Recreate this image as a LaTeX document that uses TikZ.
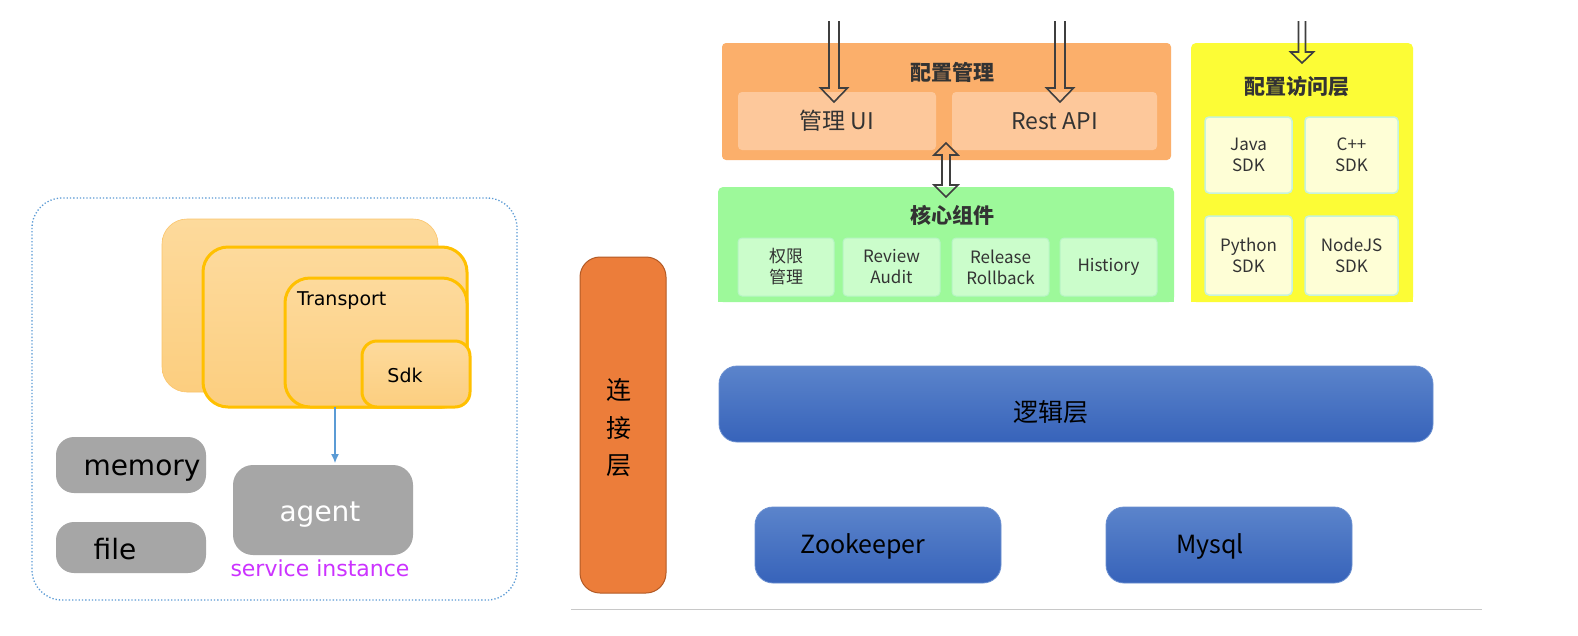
\documentclass[tikz,border=0pt]{standalone}
\usepackage{fontspec}
\setmainfont{DejaVu Sans}
\newfontfamily\cjk{Noto Sans CJK SC}
\usetikzlibrary{calc,arrows.meta}
\definecolor{cfgorange}{HTML}{FBAF6B}
\definecolor{cfgsub}{HTML}{FDC89B}
\definecolor{coregreen}{HTML}{9DF99A}
\definecolor{coresub}{HTML}{CBFDCB}
\definecolor{coresubline}{HTML}{B7F5C4}
\definecolor{accyellow}{HTML}{FCFC36}
\definecolor{accsub}{HTML}{FEFED6}
\definecolor{accsubline}{HTML}{C6F3DC}
\definecolor{barorange}{HTML}{EC7D3A}
\definecolor{barline}{HTML}{B35A25}
\definecolor{bluetop}{HTML}{5B84CB}
\definecolor{bluebot}{HTML}{3763BA}
\definecolor{blueline}{HTML}{6A8FD0}
\definecolor{gold}{HTML}{FFC000}
\definecolor{paletop}{HTML}{FDDA9C}
\definecolor{palebot}{HTML}{FCCE7F}
\definecolor{paleline}{HTML}{FBC46A}
\definecolor{grayb}{HTML}{A6A6A6}
\definecolor{dotblue}{HTML}{5B9BD5}
\definecolor{magentat}{HTML}{CC33FF}
\definecolor{txt}{HTML}{333333}
\definecolor{arrowgray}{HTML}{3F3F3F}
\definecolor{rulegray}{HTML}{C8C8C8}
\tikzset{
  box/.style={anchor=north west, inner sep=0pt, outer sep=0pt},
  ttl/.style={font=\cjk\bfseries\fontsize{21}{25}\selectfont, text=txt, inner sep=0pt},
  bigsub/.style={box, fill=cfgsub, rounded corners=4pt, font=\cjk\fontsize{23}{27}\selectfont, text=txt},
  coresubbox/.style={box, fill=coresub, draw=coresubline, line width=1pt, rounded corners=4pt, font=\cjk\fontsize{17}{21}\selectfont, text=txt, align=center},
  sdkbox/.style={box, fill=accsub, draw=accsubline, line width=1.5pt, rounded corners=4pt, font=\cjk\fontsize{17}{21}\selectfont, text=txt, align=center},
  bluebox/.style={box, top color=bluetop, bottom color=bluebot, draw=blueline, line width=0.8pt, rounded corners=18pt},
  bluetext/.style={font=\cjk\fontsize{25}{29}\selectfont, text=black, inner sep=0pt, anchor=base},
  palebox/.style={box, top color=paletop, bottom color=palebot},
  goldbox/.style={palebox, draw=gold, line width=3pt},
  graybox/.style={box, fill=grayb, rounded corners=18pt},
  lefttext/.style={inner sep=0pt, text=black, anchor=base},
  harrow/.style={draw=arrowgray, line width=1.6pt, line join=miter},
}
\newcommand\hdown[5]{\draw[harrow] let \p1=(#1), \p2=(#2) in
  (\x1-#3pt,\y1) -- (\x1-#3pt,\y2+#5pt) -- (\x1-#4pt,\y2+#5pt) -- (\x2,\y2)
  -- (\x1+#4pt,\y2+#5pt) -- (\x1+#3pt,\y2+#5pt) -- (\x1+#3pt,\y1);}
\begin{document}
\begin{tikzpicture}[x=1pt,y=-1pt]
\useasboundingbox[fill=white] (0,0) rectangle (1578,635);

% ---------- left: service instance ----------
\node[box, draw=dotblue, dotted, line width=1.3pt, rounded corners=30pt, minimum width=485, minimum height=402] (frame) at (32,198) {};
\node[palebox, draw=paleline, line width=0.6pt, rounded corners=25pt, minimum width=276, minimum height=173] (back) at (162,219) {};
\node[goldbox, rounded corners=25pt, minimum width=264, minimum height=160] (mid) at (203,247) {};
\node[goldbox, rounded corners=25pt, minimum width=182, minimum height=129] (tr) at (285,278) {};
\node[goldbox, rounded corners=15pt, minimum width=108, minimum height=66] (sdk) at (362,341) {};
\node[lefttext, anchor=base west, font=\fontsize{19}{23}\selectfont] (trt) at (297,305) {Transport};
\node[lefttext, font=\fontsize{19}{23}\selectfont] (sdkt) at (405,382) {Sdk};
\node[graybox, minimum width=150, minimum height=56] (mem) at (56,437) {};
\node[lefttext, font=\fontsize{28}{32}\selectfont] (memt) at (142,475) {memory};
\node[graybox, minimum width=150, minimum height=51] (file) at (56,522) {};
\node[lefttext, font=\fontsize{28}{32}\selectfont] (filet) at (115,559) {file};
\node[graybox, rounded corners=20pt, minimum width=180, minimum height=90] (agent) at (233,465) {};
\node[lefttext, text=white, font=\fontsize{28}{32}\selectfont] (agentt) at (320,521) {agent};
\node[lefttext, text=magentat, font=\fontsize{22}{26}\selectfont] (svc) at (320,576) {service instance};
\coordinate (ab) at (335,407);
\draw[dotblue, line width=1.2pt, -{Latex[length=9pt,width=8pt]}] (ab) -- ([yshift=2pt]ab |- agent.north);

% ---------- right: config management ----------
\node[box, fill=cfgorange, rounded corners=4pt, minimum width=449, minimum height=117] (cfg) at (722,43) {};
\node[ttl] (cfgt) at (952,72) {配置管理};
\node[bigsub, minimum width=198, minimum height=58] (ui) at (738,92) {管理 UI};
\node[bigsub, minimum width=205, minimum height=58] (rest) at (952,92) {Rest API};

\node[box, fill=coregreen, rounded corners=5pt, minimum width=456, minimum height=115] (core) at (718,187) {};
\fill[coregreen] ([yshift=10pt]core.south west) rectangle (core.south east);
\node[ttl] (coret) at (952,215) {核心组件};
\node[coresubbox, minimum width=96, minimum height=58] (perm) at (738,238) {权限\\管理};
\node[coresubbox, minimum width=97, minimum height=58] (rev) at (843,238) {Review\\Audit};
\node[coresubbox, minimum width=97, minimum height=58] (rel) at (952,238) {Release\\Rollback};
\node[coresubbox, minimum width=97, minimum height=58] (his) at (1060,238) {Histiory};

\node[box, fill=accyellow, rounded corners=5pt, minimum width=222, minimum height=259] (acc) at (1191,43) {};
\fill[accyellow] ([yshift=10pt]acc.south west) rectangle (acc.south east);
\node[ttl] (acct) at (1297,87) {配置访问层};
\node[sdkbox, minimum width=87, minimum height=76] (java) at (1205,117) {Java\\SDK};
\node[sdkbox, minimum width=93, minimum height=76] (cpp) at (1305,117) {C++\\SDK};
\node[sdkbox, minimum width=87, minimum height=79] (py) at (1205,216) {Python\\SDK};
\node[sdkbox, minimum width=93, minimum height=79] (node) at (1305,216) {NodeJS\\SDK};

% connection bar
\node[box, fill=barorange, draw=barline, line width=1pt, rounded corners=20pt, minimum width=86, minimum height=336] (bar) at (580,257) {};
\node[inner sep=0pt, align=center, font=\cjk\fontsize{25}{37.5}\selectfont, text=black] (bart) at (619,428) {连\\接\\层};

% logic and storage
\node[bluebox, minimum width=714, minimum height=76] (logic) at (719,366) {};
\node[bluetext] (logict) at (1051,421) {逻辑层};
\node[bluebox, minimum width=246, minimum height=76] (zk) at (755,507) {};
\node[bluetext] (zkt) at (863,553) {Zookeeper};
\node[bluebox, minimum width=246, minimum height=76] (my) at (1106,507) {};
\node[bluetext] (myt) at (1210,553) {Mysql};

\coordinate (rl) at (571,609);
\coordinate (rr) at (1482,609);
\draw[rulegray, line width=1pt] (rl) -- (rr);

% hollow arrows
\coordinate (in1) at (834,21);
\coordinate (tip1) at ([yshift=-10pt]in1 |- ui.north);
\hdown{in1}{tip1}{5}{13.5}{14}
\coordinate (in2) at (1060,21);
\coordinate (tip2) at ([yshift=-10pt]in2 |- rest.north);
\hdown{in2}{tip2}{5}{13.5}{14}
\coordinate (in3) at (1302,21);
\coordinate (tip3) at ([yshift=-20pt]in3 |- acc.north);
\hdown{in3}{tip3}{3.5}{11.5}{11}
\coordinate (dtop) at ([xshift=2pt,yshift=7pt]$(ui.south east)!0.5!(rest.south west)$);
\coordinate (dbot) at ([yshift=-10pt]dtop |- core.north);
\draw[harrow] let \p1=(dtop), \p2=(dbot) in
  (\x1,\y1) -- (\x1+12pt,\y1-12pt) -- (\x1+4pt,\y1-12pt) -- (\x1+4pt,\y2+12pt)
  -- (\x1+12pt,\y2+12pt) -- (\x1,\y2) -- (\x1-12pt,\y2+12pt) -- (\x1-4pt,\y2+12pt)
  -- (\x1-4pt,\y1-12pt) -- (\x1-12pt,\y1-12pt) -- cycle;
\end{tikzpicture}
\end{document}
